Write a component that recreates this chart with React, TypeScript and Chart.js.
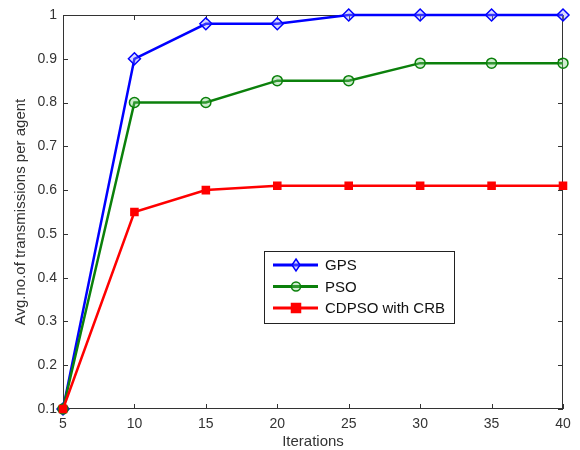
import React, { useEffect, useRef } from "react";
import { Chart, registerables } from "chart.js";

Chart.register(...registerables);

const iterations = [5, 10, 15, 20, 25, 30, 35, 40];
const gpsValues = [0.1, 0.9, 0.98, 0.98, 1.0, 1.0, 1.0, 1.0];
const psoValues = [0.1, 0.8, 0.8, 0.85, 0.85, 0.89, 0.89, 0.89];
const cdpsoValues = [0.1, 0.55, 0.6, 0.61, 0.61, 0.61, 0.61, 0.61];
const seriesNames = ["GPS", "PSO", "CDPSO with CRB"];
const xTitle = "Iterations";
const yTitle = "Avg.no.of transmissions per agent";

const FONT = "'Liberation Sans', Arial, sans-serif";

const framePlugin = {
  id: "frame",
  beforeDatasetsDraw(chart: any) {
    const { ctx, chartArea: a, scales } = chart;
    ctx.save();
    ctx.strokeStyle = "#333";
    ctx.lineWidth = 1;
    ctx.strokeRect(a.left + 0.5, a.top + 0.5, a.right - a.left - 1, a.bottom - a.top - 1);
    const tl = 5;
    ctx.beginPath();
    scales.x.ticks.forEach((t: any) => {
      const x = Math.round(scales.x.getPixelForValue(t.value)) + 0.5;
      ctx.moveTo(x, a.bottom);
      ctx.lineTo(x, a.bottom - tl);
      ctx.moveTo(x, a.top);
      ctx.lineTo(x, a.top + tl);
    });
    scales.y.ticks.forEach((t: any) => {
      const y = Math.round(scales.y.getPixelForValue(t.value)) + 0.5;
      ctx.moveTo(a.left, y);
      ctx.lineTo(a.left + tl, y);
      ctx.moveTo(a.right, y);
      ctx.lineTo(a.right - tl, y);
    });
    ctx.stroke();
    ctx.restore();
  },
  afterDraw(chart: any) {
    const { ctx } = chart;
    const bx = 264, by = 251, bw = 190, bh = 72;
    ctx.save();
    ctx.fillStyle = "#fff";
    ctx.fillRect(bx, by, bw, bh);
    ctx.strokeStyle = "#222";
    ctx.lineWidth = 1;
    ctx.strokeRect(bx + 0.5, by + 0.5, bw, bh);
    chart.data.datasets.forEach((ds: any, i: number) => {
      const y = by + 14 + i * 21.5;
      ctx.strokeStyle = ds.borderColor;
      ctx.lineWidth = 3;
      ctx.beginPath();
      ctx.moveTo(bx + 9, y);
      ctx.lineTo(bx + 54, y);
      ctx.stroke();
      ctx.lineWidth = 1.5;
      ctx.fillStyle = ds.pointBackgroundColor;
      const mx = bx + 32;
      const r = 5;
      ctx.beginPath();
      if (ds.pointStyle === "rectRot") {
        ctx.moveTo(mx, y - r - 1);
        ctx.lineTo(mx + r - 1, y);
        ctx.lineTo(mx, y + r + 1);
        ctx.lineTo(mx - r + 1, y);
        ctx.closePath();
      } else if (ds.pointStyle === "circle") {
        ctx.arc(mx, y, r - 0.5, 0, Math.PI * 2);
      } else {
        ctx.rect(mx - r + 0.5, y - r + 0.5, 2 * r - 1, 2 * r - 1);
      }
      ctx.fill();
      ctx.stroke();
      ctx.fillStyle = "#111";
      ctx.font = `15px ${FONT}`;
      ctx.textBaseline = "middle";
      ctx.fillText(ds.label, bx + 61, y + 1);
    });
    ctx.restore();
  },
};

function toPoints(vals: number[]) {
  return iterations.map((x, i) => ({ x, y: vals[i] }));
}

export default function App() {
  const ref = useRef<HTMLCanvasElement>(null);
  useEffect(() => {
    const mk = (label: string, vals: number[], color: string, style: string, bg: string, r: number, order: number) => ({
      label,
      data: toPoints(vals),
      borderColor: color,
      backgroundColor: color,
      borderWidth: 2.5,
      pointStyle: style,
      pointRadius: r,
      pointBorderWidth: 1.5,
      pointBorderColor: color,
      pointBackgroundColor: bg,
      tension: 0,
      clip: false,
      order,
    });
    const chart = new Chart(ref.current as HTMLCanvasElement, {
      type: "line",
      data: {
        datasets: [
          mk(seriesNames[0], gpsValues, "#0000ff", "rectRot", "rgba(150,150,255,0.35)", 6, 2),
          mk(seriesNames[1], psoValues, "#0b800b", "circle", "rgba(120,200,120,0.35)", 5, 1),
          mk(seriesNames[2], cdpsoValues, "#ff0000", "rect", "#ff0000", 5, 0),
        ],
      } as any,
      plugins: [framePlugin],
      options: {
        animation: false,
        responsive: false,
        maintainAspectRatio: false,
        layout: { padding: { top: 15, right: 17, left: 0, bottom: 0 } },
        plugins: { legend: { display: false }, tooltip: { enabled: false } },
        scales: {
          x: {
            type: "linear",
            min: 5,
            max: 40,
            ticks: { stepSize: 5, padding: 7, color: "#333", font: { family: FONT, size: 14 } },
            grid: { display: false, drawTicks: false },
            border: { display: false },
            title: { display: true, text: xTitle, color: "#333", padding: { top: 0, bottom: 0 }, font: { family: FONT, size: 15, lineHeight: 1.1 } },
            afterFit: (s: any) => { s.height = 41; },
          },
          y: {
            type: "linear",
            min: 0.1,
            max: 1,
            ticks: {
              stepSize: 0.1,
              padding: 6,
              color: "#333",
              font: { family: FONT, size: 14 },
              callback: (v: any) => String(Number(Number(v).toFixed(1))),
            },
            grid: { display: false, drawTicks: false },
            border: { display: false },
            title: { display: true, text: yTitle, color: "#333", padding: { top: 13.5, bottom: 0 }, font: { family: FONT, size: 15, lineHeight: 1 } },
            afterFit: (s: any) => { s.width = 63; },
          },
        },
      } as any,
    });
    return () => chart.destroy();
  }, []);
  return (
    <div style={{ position: "fixed", left: 0, top: 0, width: 580, height: 450, background: "#fff" }}>
      <canvas ref={ref} width={580} height={450} />
    </div>
  );
}
